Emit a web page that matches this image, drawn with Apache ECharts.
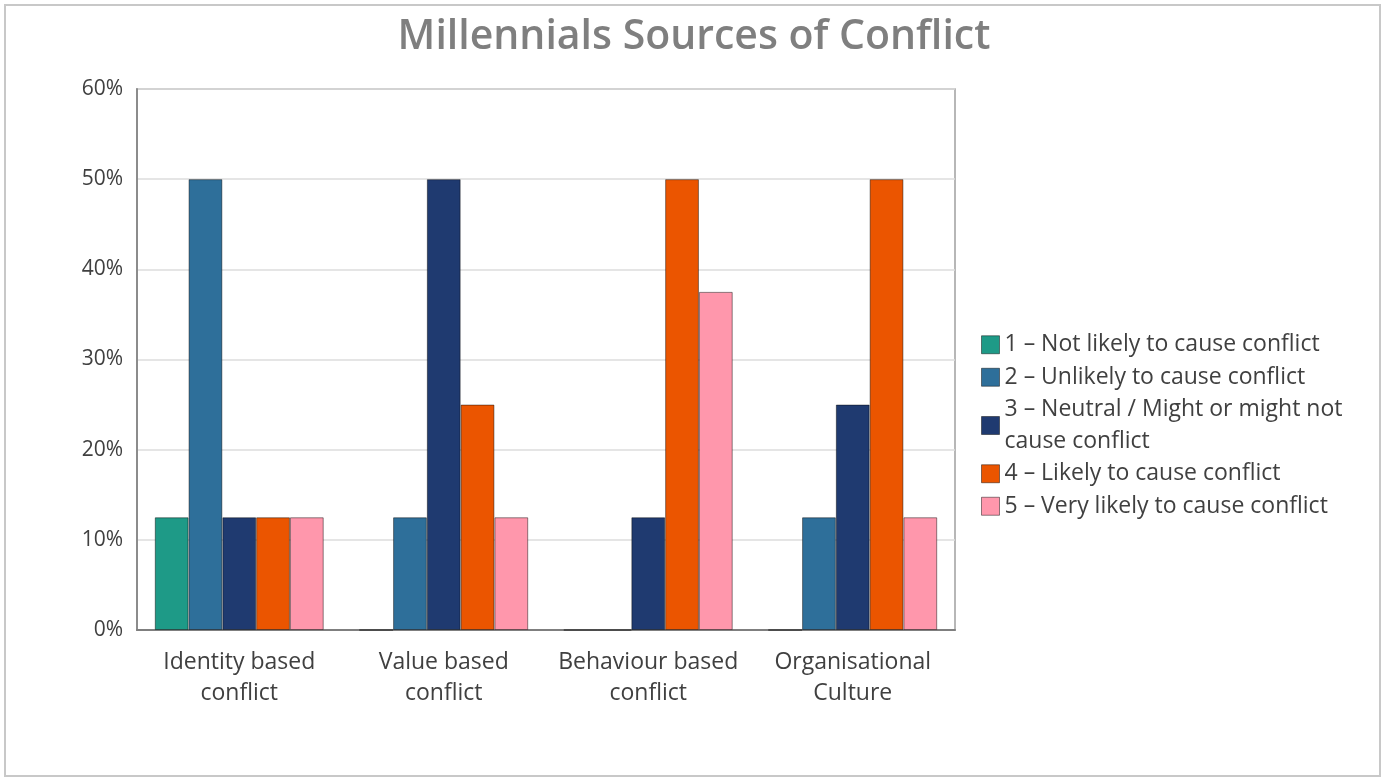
<!DOCTYPE html>
<html>
<head>
<meta charset="utf-8">
<script src="https://cdn.jsdelivr.net/npm/echarts@6/dist/echarts.min.js"></script>
<style>
  html, body { margin: 0; padding: 0; background: #ffffff; }
  #chart { width: 1388px; height: 778px; }
</style>
</head>
<body>
<div id="chart"></div>
<script>
// Conflict sources, share of respondents per rating
const categories = ['Identity based\nconflict', 'Value based\nconflict', 'Behaviour based\nconflict', 'Organisational\nCulture'];
const seriesNames = [
  '1 – Not likely to cause conflict',
  '2 – Unlikely to cause conflict',
  '3 – Neutral / Might or might not\ncause conflict',
  '4 – Likely to cause conflict',
  '5 – Very likely to cause conflict'
];
const notLikely      = [12.5, 0, 0, 0];
const unlikely       = [50, 12.5, 0, 12.5];
const neutral        = [12.5, 50, 12.5, 25];
const likely         = [12.5, 25, 50, 50];
const veryLikely     = [12.5, 12.5, 37.5, 12.5];
const yTicks = [0, 10, 20, 30, 40, 50, 60];

const colors = ['#1e9a87', '#2e6f9a', '#1f3a70', '#eb5500', '#ff97ac'];
const values = [notLikely, unlikely, neutral, likely, veryLikely];

const font = '"Open Sans", "Liberation Sans", sans-serif';

const chart = echarts.init(document.getElementById('chart'), null, { renderer: 'canvas' });
chart.setOption({
  animation: false,
  backgroundColor: '#ffffff',
  color: colors,
  graphic: [{
    type: 'rect',
    shape: { x: 5, y: 5, width: 1375, height: 771 },
    style: { fill: 'none', stroke: '#c8c8c8', lineWidth: 2 },
    silent: true
  }],
  title: {
    text: 'Millennials Sources of Conflict',
    left: 'center',
    top: 12,
    textStyle: { fontFamily: font, fontSize: 41, fontWeight: 600, color: '#7f7f7f' }
  },
  legend: {
    orient: 'vertical',
    left: 976,
    top: 324,
    itemWidth: 18,
    itemHeight: 18,
    itemGap: 1,
    icon: 'rect',
    itemStyle: { borderColor: 'rgba(0,0,0,0.45)', borderWidth: 1 },
    textStyle: { fontFamily: font, fontSize: 23, color: '#404040', lineHeight: 31.5, padding: [0, 0, 0, 0] },
    data: seriesNames
  },
  grid: {
    left: 137, right: 433, top: 89, bottom: 148,
    show: true, borderColor: '#a0a0a0', borderWidth: 1.5,
    containLabel: false
  },
  xAxis: {
    type: 'category',
    data: categories,
    axisTick: { show: false },
    axisLine: { show: true, lineStyle: { color: '#7f7f7f', width: 2 } },
    axisLabel: { fontFamily: font, fontSize: 23, color: '#404040', lineHeight: 31, margin: 17, interval: 0 }
  },
  yAxis: {
    type: 'value',
    min: 0, max: 60, interval: 10,
    axisLine: { show: true, lineStyle: { color: '#8c8c8c', width: 2 } },
    axisTick: { show: false },
    splitLine: { lineStyle: { color: '#dcdcdc', width: 1.5 } },
    axisLabel: {
      fontFamily: font, fontSize: 21, color: '#404040', margin: 14,
      formatter: v => yTicks.includes(v) ? v + '%' : ''
    }
  },
  series: seriesNames.map((name, i) => ({
    name,
    type: 'bar',
    data: values[i],
    barGap: '0%',
    barCategoryGap: '17.4%',
    itemStyle: { color: colors[i], borderColor: 'rgba(0,0,0,0.45)', borderWidth: 1 }
  }))
});
</script>
</body>
</html>
